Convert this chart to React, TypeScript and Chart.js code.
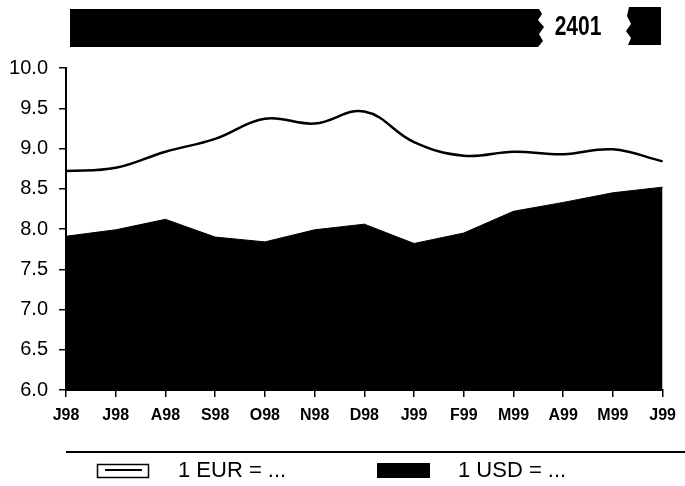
import React, { useEffect, useRef } from "react";
import { Chart, registerables } from "chart.js";

Chart.register(...registerables);

const months = ["J98", "J98", "A98", "S98", "O98", "N98", "D98", "J99", "F99", "M99", "A99", "M99", "J99"];
const eurValues = [8.72, 8.76, 8.96, 9.12, 9.37, 9.31, 9.46, 9.08, 8.91, 8.96, 8.93, 8.99, 8.84];
const usdValues = [7.91, 7.99, 8.12, 7.9, 7.84, 7.99, 8.06, 7.82, 7.95, 8.22, 8.33, 8.45, 8.52];
const headerNumber = "2401";
const eurLabel = "1 EUR = ...";
const usdLabel = "1 USD = ...";

const SANS = "'Liberation Sans', Arial, Helvetica, sans-serif";

const decorPlugin = {
  id: "decor",
  afterDraw(chart: any) {
    const ctx = chart.ctx as CanvasRenderingContext2D;
    ctx.save();
    // header bar with torn right edge
    ctx.fillStyle = "#000";
    ctx.beginPath();
    ctx.moveTo(70, 9);
    ctx.lineTo(539, 9);
    ctx.lineTo(542, 14);
    ctx.lineTo(538, 20);
    ctx.lineTo(544, 27);
    ctx.lineTo(539, 34);
    ctx.lineTo(543, 41);
    ctx.lineTo(538, 47);
    ctx.lineTo(70, 47);
    ctx.closePath();
    ctx.fill();
    // right block with torn left edge
    ctx.beginPath();
    ctx.moveTo(629, 7);
    ctx.lineTo(661, 7);
    ctx.lineTo(661, 45);
    ctx.lineTo(628, 45);
    ctx.lineTo(631, 38);
    ctx.lineTo(626, 31);
    ctx.lineTo(631, 24);
    ctx.lineTo(627, 16);
    ctx.closePath();
    ctx.fill();
    // header number (condensed bold)
    ctx.save();
    ctx.translate(578, 27);
    ctx.scale(0.75, 1);
    ctx.font = "bold 28px " + SANS;
    ctx.textAlign = "center";
    ctx.textBaseline = "middle";
    ctx.fillText(headerNumber, 0, 0);
    ctx.restore();

    // legend separator line
    ctx.strokeStyle = "#000";
    ctx.lineWidth = 2;
    ctx.beginPath();
    ctx.moveTo(66, 452);
    ctx.lineTo(685, 452);
    ctx.stroke();

    // EUR legend box
    ctx.lineWidth = 1.5;
    ctx.strokeRect(97.5, 464.5, 51, 13);
    ctx.lineWidth = 2;
    ctx.beginPath();
    ctx.moveTo(105, 470);
    ctx.lineTo(142, 470);
    ctx.stroke();
    // USD legend box
    ctx.fillRect(377, 463, 53, 15);

    ctx.font = "22px " + SANS;
    ctx.textAlign = "left";
    ctx.textBaseline = "middle";
    ctx.fillText(eurLabel, 178, 471);
    ctx.fillText(usdLabel, 458, 471);
    ctx.restore();
  },
};

export default function App() {
  const canvasRef = useRef<HTMLCanvasElement | null>(null);

  useEffect(() => {
    if (!canvasRef.current) return;
    const chart = new Chart(canvasRef.current, {
      type: "line",
      data: {
        labels: months,
        datasets: [
          {
            label: eurLabel,
            data: eurValues,
            borderColor: "#000",
            borderWidth: 2.5,
            fill: false,
            tension: 0.4,
            pointRadius: 0,
            order: 0,
          },
          {
            label: usdLabel,
            data: usdValues,
            borderColor: "#000",
            backgroundColor: "#000",
            borderWidth: 1,
            fill: "start",
            tension: 0,
            pointRadius: 0,
            order: 1,
          },
        ],
      },
      options: {
        responsive: false,
        animation: false,
        devicePixelRatio: 1,
        layout: { padding: { top: 68, right: 15, left: 0, bottom: 0 } },
        plugins: {
          legend: { display: false },
          tooltip: { enabled: false },
          title: { display: false },
        },
        scales: {
          x: {
            type: "category",
            offset: false,
            afterFit(scale: any) {
              scale.height = 96;
            },
            grid: {
              display: true,
              drawOnChartArea: false,
              drawTicks: true,
              tickLength: 7,
              color: "#000",
              lineWidth: 1.5,
            },
            border: { display: true, color: "#000", width: 2 },
            ticks: {
              color: "#000",
              font: { family: SANS, size: 16, weight: "bold" },
              padding: 9,
              maxRotation: 0,
              autoSkip: false,
            },
          },
          y: {
            min: 6,
            max: 10,
            afterFit(scale: any) {
              scale.width = 66;
            },
            grid: {
              display: true,
              drawOnChartArea: false,
              drawTicks: true,
              tickLength: 7,
              color: "#000",
              lineWidth: 1.5,
            },
            border: { display: true, color: "#000", width: 2 },
            ticks: {
              stepSize: 0.5,
              color: "#000",
              font: { family: SANS, size: 20 },
              padding: 11,
              callback: (v: any) => Number(v).toFixed(1),
            },
          },
        },
      },
      plugins: [decorPlugin],
    });
    return () => chart.destroy();
  }, []);

  return (
    <div style={{ position: "absolute", left: 0, top: 0, width: 685, height: 486, background: "#fff" }}>
      <canvas ref={canvasRef} width={685} height={486} style={{ display: "block" }} />
    </div>
  );
}
